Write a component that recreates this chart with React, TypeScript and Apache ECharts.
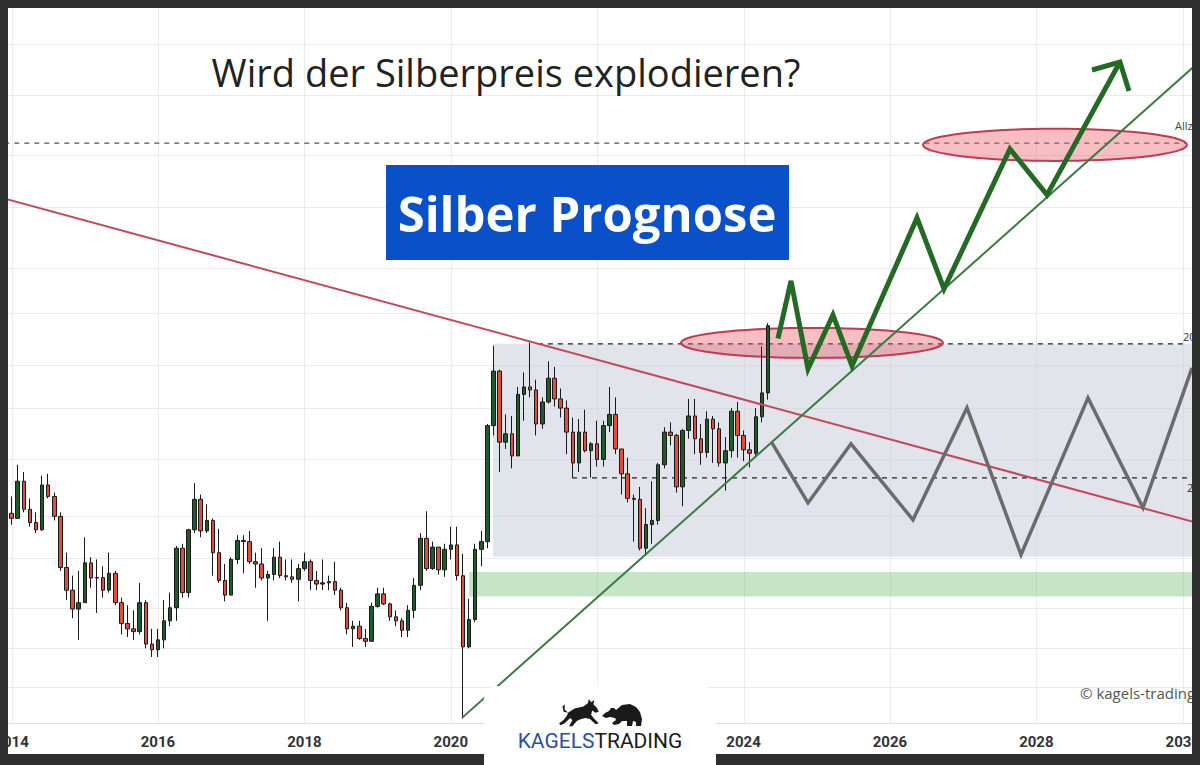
import React, { useEffect, useRef } from "react";
import * as echarts from "echarts";

// ---------- DATA ----------
const firstYear = 2014;
const opens = [
  19.55, 19.3, 21.2, 19.75, 19.1, 18.75, 21.0, 20.4, 19.4, 17.05, 16.1, 15.35,
  15.6, 17.25, 16.6, 16.62, 16.1, 16.8, 15.6, 14.8, 14.6, 14.5, 15.6, 14.05,
  13.85, 14.2, 14.9, 15.4, 17.9, 16.0, 18.75, 20.25, 18.7, 19.2, 17.7, 16.5,
  15.9, 17.4, 18.25, 18.2, 17.3, 17.2, 16.6, 16.75, 17.5, 16.7, 16.65, 16.55,
  17.0, 17.3, 16.5, 16.35, 16.4, 16.45, 16.1, 15.4, 14.6, 14.7, 14.25, 14.15,
  15.45, 15.95, 15.55, 15.05, 14.9, 14.55, 15.3, 16.3, 18.35, 17.0, 17.95, 16.95,
  17.85, 18.05, 16.7, 13.95, 14.95, 17.85, 18.2, 24.4, 28.0, 23.4, 23.9, 22.6,
  26.4, 26.9, 26.7, 24.5, 25.9, 27.5, 26.1, 25.5, 24.0, 22.2, 24.0, 22.9,
  23.3, 22.4, 24.4, 25.1, 23.0, 21.6, 20.3, 20.25, 17.9, 19.0, 19.2, 22.1,
  24.0, 23.8, 20.9, 24.1, 25.0, 23.6, 22.8, 24.8, 24.2, 22.2, 22.9, 25.3,
  23.8, 22.95, 22.75, 24.95, 26.5,
];
const closes = [
  19.3, 21.2, 19.75, 19.1, 18.75, 21.0, 20.4, 19.4, 17.05, 16.1, 15.35, 15.6,
  17.25, 16.6, 16.62, 16.1, 16.8, 15.6, 14.8, 14.6, 14.5, 15.6, 14.05, 13.85,
  14.2, 14.9, 15.4, 17.9, 16.0, 18.75, 20.25, 18.7, 19.2, 17.7, 16.5, 15.9,
  17.4, 18.25, 18.2, 17.3, 17.2, 16.6, 16.75, 17.5, 16.7, 16.65, 16.55, 17.0,
  17.3, 16.5, 16.35, 16.4, 16.45, 16.1, 15.4, 14.6, 14.7, 14.25, 14.15, 15.45,
  15.95, 15.55, 15.05, 14.9, 14.55, 15.3, 16.3, 18.35, 17.0, 17.95, 16.95, 17.85,
  18.05, 16.7, 13.95, 14.95, 17.85, 18.2, 24.4, 28.0, 23.4, 23.9, 22.6, 26.4,
  26.9, 26.7, 24.5, 25.9, 27.5, 26.1, 25.5, 24.0, 22.2, 24.0, 22.9, 23.3,
  22.4, 24.4, 25.1, 23.0, 21.6, 20.3, 20.25, 17.9, 19.0, 19.2, 22.1, 24.0,
  23.8, 20.9, 24.1, 25.0, 23.6, 22.8, 24.8, 24.2, 22.2, 22.9, 25.3, 23.8,
  22.95, 22.75, 24.95, 26.5, 31.4,
];
const highs = [
  20.4, 22.1, 21.7, 20.3, 19.6, 21.5, 21.6, 20.6, 19.6, 17.7, 16.7, 16.9,
  18.4, 17.5, 17.4, 17.1, 17.7, 16.9, 15.8, 15.5, 15.3, 16.4, 15.7, 14.6,
  14.6, 15.7, 16.0, 18.0, 18.1, 18.8, 21.1, 20.5, 20.0, 19.3, 18.8, 17.2,
  17.5, 18.5, 18.5, 18.7, 17.7, 17.9, 16.9, 17.9, 18.2, 17.4, 17.4, 17.2,
  17.7, 17.4, 16.9, 17.4, 16.7, 17.3, 16.2, 15.6, 14.9, 14.9, 14.6, 15.6,
  16.2, 16.2, 15.6, 15.3, 15.0, 15.5, 16.6, 18.6, 19.65, 18.2, 17.95, 18.1,
  18.9, 18.9, 17.65, 15.75, 18.1, 18.7, 24.5, 29.85, 28.1, 25.1, 25.0, 26.9,
  27.9, 30.1, 27.4, 26.2, 28.7, 28.3, 26.8, 26.0, 24.9, 24.8, 25.4, 23.4,
  24.7, 24.7, 26.9, 26.2, 23.0, 22.5, 20.5, 20.9, 19.8, 21.2, 22.2, 24.3,
  24.6, 23.9, 24.2, 26.1, 26.1, 24.5, 25.3, 25.0, 24.6, 23.7, 25.5, 25.9,
  24.1, 23.4, 25.5, 29.8, 31.6,
];
const lows = [
  19.0, 19.3, 19.6, 18.9, 18.6, 18.7, 20.3, 19.2, 16.9, 15.7, 15.0, 14.2,
  15.6, 16.2, 15.2, 15.8, 16.0, 15.5, 14.4, 14.3, 14.2, 14.4, 13.9, 13.6,
  13.6, 13.9, 14.7, 14.9, 15.8, 15.8, 18.6, 18.4, 18.6, 16.7, 16.4, 15.65,
  15.9, 17.2, 16.8, 17.2, 16.2, 16.5, 14.9, 16.5, 16.6, 16.5, 16.4, 15.65,
  16.9, 16.1, 16.1, 16.1, 16.1, 15.9, 15.3, 14.4, 13.95, 14.2, 13.95, 14.15,
  15.4, 15.5, 14.9, 14.7, 14.3, 14.3, 15.0, 16.1, 16.9, 16.95, 16.75, 16.65,
  17.4, 16.5, 11.64, 13.9, 14.85, 17.1, 17.9, 23.8, 21.7, 23.0, 21.9, 22.6,
  24.7, 26.2, 23.8, 24.2, 25.8, 25.6, 24.9, 22.7, 21.4, 21.7, 22.8, 21.4,
  22.0, 22.0, 24.0, 22.7, 20.5, 20.1, 18.2, 17.8, 17.56, 18.1, 19.0, 21.9,
  23.2, 20.6, 19.9, 23.6, 22.7, 22.1, 22.5, 22.2, 22.0, 20.7, 22.5, 22.5,
  22.3, 21.95, 22.5, 24.6, 26.05,
];
const candleMonths: string[] = opens.map(
  (_, i) => `${firstYear + Math.floor(i / 12)}-${String((i % 12) + 1).padStart(2, "0")}`
);

const yearLabels = [2014, 2016, 2018, 2020, 2024, 2026, 2028, 2030];
const yearGrid = [2014, 2016, 2018, 2020, 2022, 2024, 2026, 2028, 2030];
const priceGrid = [63.9, 56.2, 48.3, 42.4, 36.3, 32.4, 28.4, 25.5, 22.4, 19.4, 17.45, 15.4, 13.9, 12.6];

// trend lines [year, price]
const resistanceLine = [[2013.9, 43.3], [2030.2, 19.08]];
const supportLine = [[2020.153, 11.66], [2030.2, 60.9]];
// forecast paths
const bullishPath = [
  [2024.47, 30.4], [2024.648, 35.17], [2024.88, 28.16], [2025.221, 32.27], [2025.481, 28.37],
  [2026.369, 41.23], [2026.738, 34.46], [2027.639, 49.08], [2028.145, 43.7], [2029.142, 61.13],
];
const arrowHead = [[2028.76, 59.91], [2029.142, 61.13], [2029.265, 56.81]];
const sidewaysPath = [
  [2024.388, 23.36], [2024.88, 20.07], [2025.467, 23.3], [2026.314, 19.23], [2027.052, 25.52],
  [2027.79, 17.61], [2028.705, 26.17], [2029.456, 19.82], [2030.126, 28.23],
];
// zones [t1, t2, pLow, pHigh]
const rangeBox = [[2020.577, 2030.4, 17.52, 30.0]];
const supportZone = [[2020.25, 2030.4, 15.84, 16.86]];
const targetZones = [
  [2023.145, 2026.724, 28.95, 31.23],
  [2026.451, 2030.057, 47.62, 51.64],
];
// horizontal levels
const athLevel = [[2013.9, 49.8], [2030.057, 49.8]];
const highLevel = [[2021.19, 30.0], [2030.057, 30.0]];
const lowLevel = [[2021.656, 21.38], [2030.057, 21.38]];

const xMin = 2013.951;
const xMax = 2030.126;
const yMin = 11.51;
const yMax = 70.07;

// ---------- logo shapes ----------
const bullPath =
  "M10 14 L16 10 L24 8 L28 5 L29 1 L31 4 L34 2 L33 6 L36 9 L38 13 L35 14 L32 12 L31 16 L34 20 L38 24 L35 25 L30 20 L26 19 L22 20 L18 22 L14 27 L11 27 L14 21 L12 19 L7 24 L3 26 L2 24 L6 21 L9 17 Z M10 14 L6 13 L5 8 L7 6 L7 11 Z";
const bearPath =
  "M0 17 L3 14 L7 12 L9 9 L12 9 L14 11 L20 6 L28 5 L34 8 L38 13 L40 20 L39 27 L34 27 L34 23 L31 22 L30 27 L25 27 L25 22 L20 22 L17 25 L12 26 L10 24 L14 21 L13 19 L8 18 L4 19 Z";
let shapesRegistered = false;
function registerShapes() {
  if (shapesRegistered) return;
  echarts.graphic.registerShape("kagelsBull", echarts.graphic.extendPath(bullPath, {}));
  echarts.graphic.registerShape("kagelsBear", echarts.graphic.extendPath(bearPath, {}));
  shapesRegistered = true;
}

function monthToYear(m: string) {
  const [y, mo] = m.split("-").map(Number);
  return y + (mo - 1) / 12;
}

function rectRender(fill: string) {
  return (params: any, api: any) => {
    const a = api.coord([api.value(0), api.value(3)]);
    const b = api.coord([api.value(1), api.value(2)]);
    return {
      type: "rect",
      shape: { x: a[0], y: a[1], width: b[0] - a[0], height: b[1] - a[1] },
      style: { fill },
    };
  };
}

export default function App() {
  const ref = useRef<HTMLDivElement>(null);
  useEffect(() => {
    if (!ref.current) return;
    registerShapes();
    const chart = echarts.init(ref.current, undefined, { renderer: "svg" });

    const candleData = candleMonths.map((m, i) => [monthToYear(m), opens[i], closes[i], lows[i], highs[i]]);

    const option: any = {
      animation: false,
      backgroundColor: "#ffffff",
      grid: { left: 8, right: 8, top: 8, bottom: 42, containLabel: false, outerBoundsMode: "none" },
      xAxis: {
        type: "value",
        min: xMin,
        max: xMax,
        splitLine: { show: false },
        axisTick: { show: false },
        axisLine: { show: true, lineStyle: { color: "#e2e2e2", width: 1 } },
        axisLabel: {
          customValues: yearLabels,
          formatter: (v: number) => String(Math.round(v)),
          color: "#333",
          fontWeight: "bold",
          fontSize: 15,
          fontFamily: "Roboto",
          margin: 11,
        },
      },
      yAxis: {
        type: "log",
        min: yMin,
        max: yMax,
        show: false,
        splitLine: { show: false },
      },
      series: [
        {
          type: "custom",
          z: 1,
          silent: true,
          clip: true,
          data: priceGrid.map((p) => [xMin, p]),
          encode: { x: 0, y: 1 },
          renderItem: (params: any, api: any) => {
            const c = params.coordSys;
            const y = Math.round(api.coord([xMin, api.value(1)])[1]) + 0.5;
            return { type: "line", shape: { x1: c.x, y1: y, x2: c.x + c.width, y2: y }, style: { stroke: "#ebebeb", lineWidth: 1 } };
          },
        },
        {
          type: "custom",
          z: 1,
          silent: true,
          clip: true,
          data: yearGrid.map((t) => [t, yMin]),
          encode: { x: 0, y: 1 },
          renderItem: (params: any, api: any) => {
            const c = params.coordSys;
            const x = Math.round(api.coord([api.value(0), yMin])[0]) + 0.5;
            return { type: "line", shape: { x1: x, y1: c.y, x2: x, y2: c.y + c.height }, style: { stroke: "#ebebeb", lineWidth: 1 } };
          },
        },
        {
          type: "custom",
          z: 2,
          silent: true,
          clip: true,
          data: rangeBox,
          encode: { x: [0, 1], y: [2, 3] },
          renderItem: rectRender("rgba(200,205,216,0.55)"),
        },
        {
          type: "custom",
          z: 2,
          silent: true,
          clip: true,
          data: supportZone,
          encode: { x: [0, 1], y: [2, 3] },
          renderItem: rectRender("rgba(120,190,120,0.42)"),
        },
        {
          type: "line",
          z: 3,
          data: athLevel,
          symbol: "none",
          lineStyle: { color: "#555", width: 1.3, type: [5, 5] },
        },
        {
          type: "line",
          z: 3,
          data: highLevel,
          symbol: "none",
          lineStyle: { color: "#222", width: 1.3, type: [5, 5] },
        },
        {
          type: "line",
          z: 3,
          data: lowLevel,
          symbol: "none",
          lineStyle: { color: "#222", width: 1.3, type: [5, 5] },
        },
        {
          type: "custom",
          z: 4,
          silent: true,
          clip: true,
          data: targetZones,
          encode: { x: [0, 1], y: [2, 3] },
          renderItem: (params: any, api: any) => {
            const a = api.coord([api.value(0), api.value(3)]);
            const b = api.coord([api.value(1), api.value(2)]);
            const cx = (a[0] + b[0]) / 2;
            const cy = (a[1] + b[1]) / 2;
            const rx = Math.abs(b[0] - a[0]) / 2;
            const ry = Math.abs(b[1] - a[1]) / 2;
            const pts: number[][] = [];
            for (let k = 0; k < 72; k++) {
              const ang = (k / 72) * Math.PI * 2;
              pts.push([cx + rx * Math.cos(ang), cy + ry * Math.sin(ang)]);
            }
            return {
              type: "polygon",
              shape: { points: pts },
              style: { fill: "rgba(232,90,105,0.4)", stroke: "#c23a50", lineWidth: 2 },
            };
          },
        },
        {
          type: "candlestick",
          z: 5,
          data: candleData,
          barWidth: 4,
          itemStyle: {
            color: "#1f5a2a",
            color0: "#e34b3d",
            borderColor: "#1a1a1a",
            borderColor0: "#1a1a1a",
            borderWidth: 1,
          },
        },
        {
          type: "line",
          z: 6,
          data: resistanceLine,
          symbol: "none",
          lineStyle: { color: "#c4485a", width: 2 },
        },
        {
          type: "line",
          z: 6,
          data: supportLine,
          symbol: "none",
          lineStyle: { color: "#3c7c44", width: 2 },
        },
        {
          type: "line",
          z: 7,
          data: sidewaysPath,
          symbol: "none",
          lineStyle: { color: "#6b6b6b", width: 3.5, join: "miter" },
        },
        {
          type: "line",
          z: 7,
          data: bullishPath,
          symbol: "none",
          lineStyle: { color: "#236a24", width: 5, join: "miter" },
        },
        {
          type: "line",
          z: 7,
          data: arrowHead,
          symbol: "none",
          lineStyle: { color: "#236a24", width: 5, join: "miter" },
        },
      ],
      graphic: {
        elements: [
          {
            type: "text",
            z: 10,
            x: 506,
            y: 72,
            style: {
              text: "Wird der Silberpreis explodieren?",
              fill: "#222",
              font: '38px "Open Sans"',
              align: "center",
              verticalAlign: "middle",
              textAlign: "center",
              textVerticalAlign: "middle",
            },
          },
          {
            type: "rect",
            z: 10,
            shape: { x: 386, y: 165, width: 403, height: 95 },
            style: { fill: "#0a50c8" },
          },
          {
            type: "text",
            z: 11,
            x: 587,
            y: 213,
            style: {
              text: "Silber Prognose",
              fill: "#ffffff",
              font: 'bold 49px "Open Sans"',
              align: "center",
              verticalAlign: "middle",
              textAlign: "center",
              textVerticalAlign: "middle",
            },
          },
          {
            type: "text",
            z: 10,
            x: 1175,
            y: 125,
            style: { text: "Allzeithoch", fill: "#444", font: '11px "Open Sans"', verticalAlign: "middle", textVerticalAlign: "middle" },
          },
          {
            type: "text",
            z: 10,
            x: 1183,
            y: 336,
            style: { text: "20", fill: "#333", font: '11px "Open Sans"', verticalAlign: "middle", textVerticalAlign: "middle" },
          },
          {
            type: "text",
            z: 10,
            x: 1187,
            y: 487,
            style: { text: "2", fill: "#333", font: '11px "Open Sans"', verticalAlign: "middle", textVerticalAlign: "middle" },
          },
          {
            type: "text",
            z: 10,
            x: 1080,
            y: 693,
            style: { text: "© kagels-trading.de", fill: "#555", font: '15px "Open Sans"', verticalAlign: "middle", textVerticalAlign: "middle" },
          },
          // dark frame
          { type: "rect", z: 20, shape: { x: 0, y: 0, width: 1200, height: 8 }, style: { fill: "#2e2e2e" } },
          { type: "rect", z: 20, shape: { x: 0, y: 0, width: 8, height: 765 }, style: { fill: "#2e2e2e" } },
          { type: "rect", z: 20, shape: { x: 1192, y: 0, width: 8, height: 765 }, style: { fill: "#2e2e2e" } },
          { type: "rect", z: 20, shape: { x: 0, y: 754, width: 1200, height: 11 }, style: { fill: "#2e2e2e" } },
          // logo box
          {
            type: "rect",
            z: 21,
            shape: { x: 484, y: 686, width: 232, height: 90, r: [14, 14, 0, 0] },
            style: { fill: "#ffffff" },
          },
          { type: "kagelsBull", z: 22, x: 557, y: 698, scaleX: 1.1, scaleY: 1.05, style: { fill: "#1a1a1a" } },
          { type: "kagelsBear", z: 22, x: 602, y: 699, scaleX: 1.0, scaleY: 1.0, style: { fill: "#1a1a1a" } },
          {
            type: "text",
            z: 22,
            x: 600,
            y: 741,
            style: {
              text: "{a|KAGELS}{b|TRADING}",
              align: "center",
              verticalAlign: "middle",
              textAlign: "center",
              textVerticalAlign: "middle",
              rich: {
                a: { fill: "#2c4fa3", color: "#2c4fa3", fontSize: 21, fontFamily: "Roboto" },
                b: { fill: "#1a1a1a", color: "#1a1a1a", fontSize: 21, fontFamily: "Roboto" },
              },
            },
          },
        ],
      },
    };

    chart.setOption(option);
    return () => chart.dispose();
  }, []);

  return (
    <div
      ref={ref}
      style={{ position: "fixed", left: 0, top: 0, width: 1200, height: 765 }}
    />
  );
}
